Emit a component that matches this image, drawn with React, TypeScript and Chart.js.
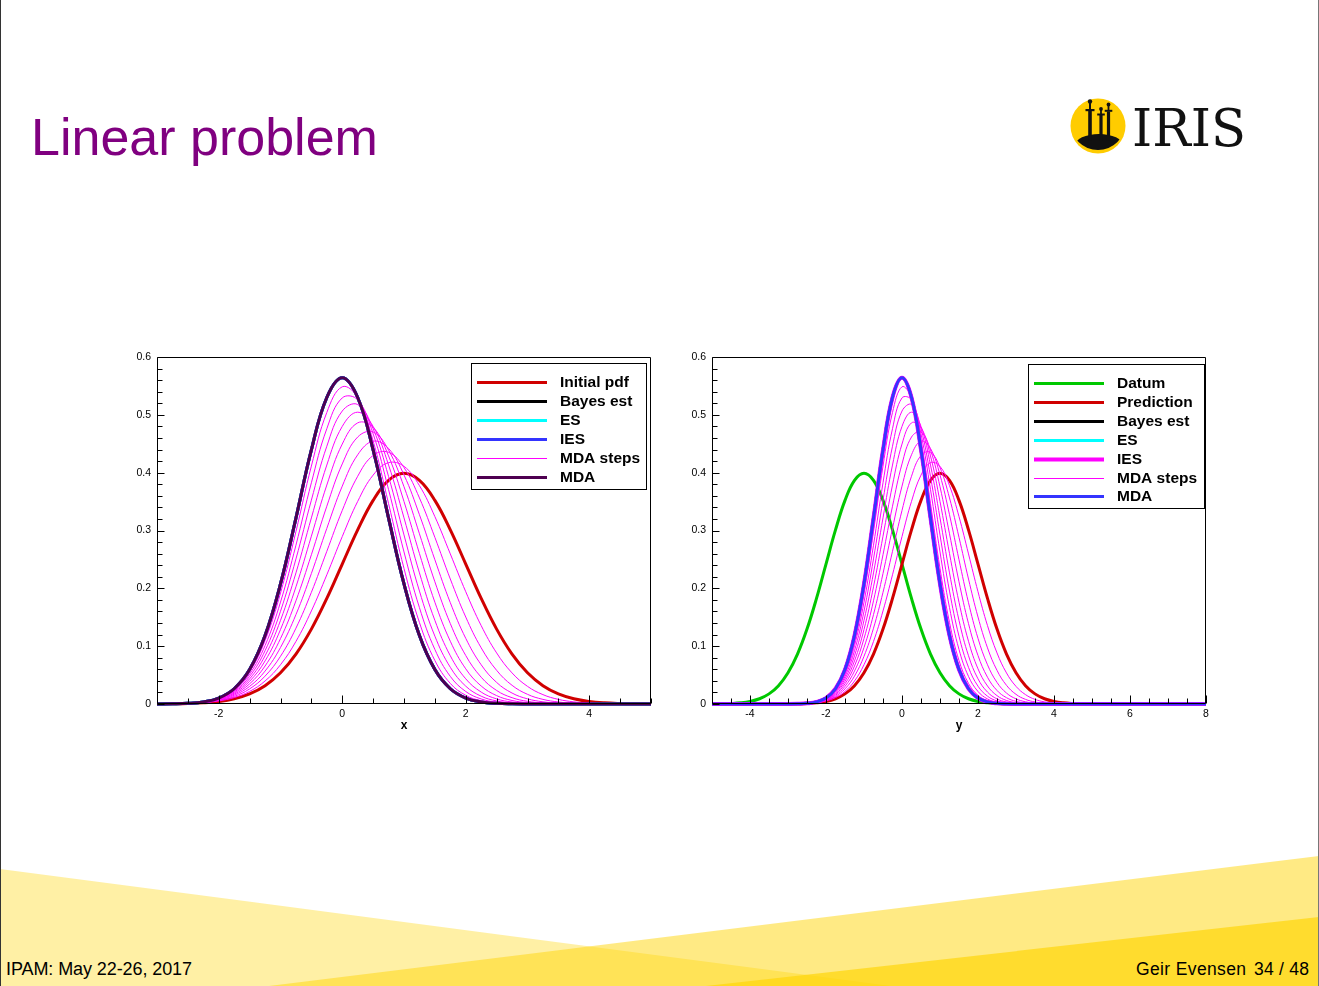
import React, { useEffect, useRef } from "react";
import { Chart, registerables } from "chart.js";

Chart.register(...registerables);

// ---------------- data ----------------
// common abscissa grid of the left panel (x) and of the right panel (y)
const X_GRID = [-3, -2.75, -2.5, -2.25, -2, -1.75, -1.5, -1.25, -1, -0.75, -0.5, -0.25, 0, 0.25, 0.5, 0.75, 1, 1.25, 1.5, 1.75, 2, 2.25, 2.5, 2.75, 3, 3.25, 3.5, 3.75, 4, 4.25, 4.5, 4.75, 5];
const DATUM_GRID = [-5, -4.75, -4.5, -4.25, -4, -3.75, -3.5, -3.25, -3, -2.75, -2.5, -2.25, -2, -1.75, -1.5, -1.25, -1, -0.75, -0.5, -0.25, 0, 0.25, 0.5, 0.75, 1, 1.25, 1.5, 1.75, 2, 2.25, 2.5, 2.75, 3];

const INITIAL_PDF = [0.0001, 0.0004, 0.0009, 0.002, 0.0044, 0.0091, 0.0175, 0.0317, 0.054, 0.0863, 0.1295, 0.1826, 0.242, 0.3011, 0.3521, 0.3867, 0.3989, 0.3867, 0.3521, 0.3011, 0.242, 0.1826, 0.1295, 0.0863, 0.054, 0.0317, 0.0175, 0.0091, 0.0044, 0.002, 0.0009, 0.0004, 0.0001];
const PREDICTION = [0.0001, 0.0004, 0.0009, 0.002, 0.0044, 0.0091, 0.0175, 0.0317, 0.054, 0.0863, 0.1295, 0.1826, 0.242, 0.3011, 0.3521, 0.3867, 0.3989, 0.3867, 0.3521, 0.3011, 0.242, 0.1826, 0.1295, 0.0863, 0.054, 0.0317, 0.0175, 0.0091, 0.0044, 0.002, 0.0009, 0.0004, 0.0001];
const DATUM = [0.0001, 0.0004, 0.0009, 0.002, 0.0044, 0.0091, 0.0175, 0.0317, 0.054, 0.0863, 0.1295, 0.1826, 0.242, 0.3011, 0.3521, 0.3867, 0.3989, 0.3867, 0.3521, 0.3011, 0.242, 0.1826, 0.1295, 0.0863, 0.054, 0.0317, 0.0175, 0.0091, 0.0044, 0.002, 0.0009, 0.0004, 0.0001];
// Bayes estimate (ES, IES and final MDA coincide with it)
const POSTERIOR = [0.0001, 0.0003, 0.0011, 0.0036, 0.0103, 0.0264, 0.0595, 0.1183, 0.2076, 0.3215, 0.4394, 0.53, 0.5642, 0.53, 0.4394, 0.3215, 0.2076, 0.1183, 0.0595, 0.0264, 0.0103, 0.0036, 0.0011, 0.0003, 0.0001, 0, 0, 0, 0, 0, 0, 0, 0];

const MDA_STEP_1 = [0.0001, 0.0004, 0.001, 0.0024, 0.0053, 0.0111, 0.0218, 0.0398, 0.0679, 0.1082, 0.1609, 0.2234, 0.2895, 0.3503, 0.3958, 0.4173, 0.4109, 0.3776, 0.324, 0.2595, 0.1941, 0.1355, 0.0883, 0.0537, 0.0305, 0.0162, 0.008, 0.0037, 0.0016, 0.0006, 0.0002, 0.0001, 0];
const MDA_STEP_2 = [0.0001, 0.0004, 0.0011, 0.0027, 0.0061, 0.0131, 0.0261, 0.0482, 0.0825, 0.1311, 0.1931, 0.264, 0.3347, 0.3938, 0.4298, 0.4352, 0.4088, 0.3563, 0.2881, 0.2161, 0.1504, 0.0971, 0.0582, 0.0323, 0.0167, 0.008, 0.0035, 0.0015, 0.0006, 0.0002, 0.0001, 0, 0];
const MDA_STEP_3 = [0.0001, 0.0004, 0.0011, 0.0029, 0.0069, 0.0151, 0.0305, 0.0569, 0.0977, 0.1546, 0.2257, 0.3037, 0.3767, 0.4309, 0.4544, 0.4418, 0.396, 0.3273, 0.2494, 0.1752, 0.1135, 0.0678, 0.0373, 0.0189, 0.0089, 0.0038, 0.0015, 0.0006, 0.0002, 0.0001, 0, 0, 0];
const MDA_STEP_4 = [0.0001, 0.0004, 0.0012, 0.0031, 0.0076, 0.017, 0.0349, 0.0657, 0.1131, 0.1785, 0.2581, 0.342, 0.4151, 0.4616, 0.4703, 0.4391, 0.3756, 0.2943, 0.2113, 0.139, 0.0838, 0.0463, 0.0234, 0.0109, 0.0046, 0.0018, 0.0006, 0.0002, 0.0001, 0, 0, 0, 0];
const MDA_STEP_5 = [0.0001, 0.0004, 0.0012, 0.0033, 0.0082, 0.0188, 0.0393, 0.0745, 0.1288, 0.2026, 0.2902, 0.3786, 0.4495, 0.4861, 0.4785, 0.4289, 0.3501, 0.2602, 0.176, 0.1085, 0.0608, 0.0311, 0.0145, 0.0061, 0.0024, 0.0008, 0.0003, 0.0001, 0, 0, 0, 0, 0];
const MDA_STEP_6 = [0.0001, 0.0004, 0.0012, 0.0034, 0.0088, 0.0206, 0.0435, 0.0834, 0.1446, 0.2267, 0.3218, 0.4132, 0.48, 0.5046, 0.48, 0.4132, 0.3218, 0.2267, 0.1446, 0.0834, 0.0435, 0.0206, 0.0088, 0.0034, 0.0012, 0.0004, 0.0001, 0, 0, 0, 0, 0, 0];
const MDA_STEP_7 = [0.0001, 0.0004, 0.0012, 0.0035, 0.0093, 0.0222, 0.0477, 0.0922, 0.1604, 0.2508, 0.3525, 0.4457, 0.5066, 0.5178, 0.4759, 0.3933, 0.2923, 0.1953, 0.1173, 0.0634, 0.0308, 0.0135, 0.0053, 0.0019, 0.0006, 0.0002, 0, 0, 0, 0, 0, 0, 0];
const MDA_STEP_8 = [0.0001, 0.0003, 0.0012, 0.0035, 0.0097, 0.0237, 0.0518, 0.101, 0.1762, 0.2746, 0.3825, 0.476, 0.5293, 0.526, 0.4671, 0.3707, 0.2629, 0.1666, 0.0943, 0.0477, 0.0216, 0.0087, 0.0031, 0.001, 0.0003, 0.0001, 0, 0, 0, 0, 0, 0, 0];
const MDA_STEP_9 = [0.0001, 0.0003, 0.0011, 0.0036, 0.01, 0.0251, 0.0557, 0.1097, 0.1919, 0.2982, 0.4114, 0.5041, 0.5485, 0.5299, 0.4547, 0.3464, 0.2344, 0.1409, 0.0752, 0.0356, 0.015, 0.0056, 0.0019, 0.0005, 0.0001, 0, 0, 0, 0, 0, 0, 0, 0];
const MDA_STEPS = [MDA_STEP_1, MDA_STEP_2, MDA_STEP_3, MDA_STEP_4, MDA_STEP_5, MDA_STEP_6, MDA_STEP_7, MDA_STEP_8, MDA_STEP_9];

// axes
const X_RANGE = [-3, 5];
const Y_RANGE = [-5, 8];
const PDF_RANGE = [0, 0.6];
const X_TICKS = [-2, 0, 2, 4];
const Y_TICKS = [-4, -2, 0, 2, 4, 6, 8];
const PDF_TICKS = [0, 0.1, 0.2, 0.3, 0.4, 0.5, 0.6];

const LEFT_LABELS = ["Initial pdf", "Bayes est", "ES", "IES", "MDA steps", "MDA"];
const RIGHT_LABELS = ["Datum", "Prediction", "Bayes est", "ES", "IES", "MDA steps", "MDA"];

// ---------------- styles ----------------
const FONT = '"Liberation Sans", Arial, Helvetica, sans-serif';
const C = {
  red: "#d00000",
  black: "#000000",
  cyan: "#00ffff",
  blue: "#3434ff",
  magenta: "#ff00ff",
  purple: "#4e0050",
  green: "#00c800",
};

type Series = {
  label: string;
  grid: number[];
  values: number[];
  color: string;
  width: number;
  legend: boolean;
  tails?: number[];
};

function toPoints(s: Series) {
  const pts = s.values.map((y, i) => ({ x: s.grid[i], y }));
  if (s.tails) {
    if (s.grid[0] > s.tails[0]) pts.unshift({ x: s.tails[0], y: 0 });
    if (s.grid[s.grid.length - 1] < s.tails[1]) pts.push({ x: s.tails[1], y: 0 });
  }
  return pts;
}

const frameTicksPlugin = {
  id: "frameTicks",
  afterDatasetsDraw(chart: any, _args: any, opts: any) {
    const { ctx, chartArea: a } = chart;
    const xs = chart.scales.x;
    const ys = chart.scales.y;
    const L = Math.round(a.left) + 0.5;
    const R = Math.round(a.right) - 0.5;
    const T = Math.round(a.top) + 0.5;
    const B = Math.round(a.bottom) - 0.5;
    ctx.save();
    ctx.strokeStyle = "#000";
    ctx.lineWidth = 1;
    ctx.beginPath();
    ctx.rect(L, T, R - L, B - T);
    const isMult = (v: number, step: number) => Math.abs(v / step - Math.round(v / step)) < 1e-6;
    const nx = Math.round((xs.max - xs.min) / opts.xMinor);
    for (let i = 0; i <= nx; i++) {
      const v = xs.min + i * opts.xMinor;
      const px = Math.round(xs.getPixelForValue(v)) + 0.5;
      const len = isMult(v, opts.xMajor) ? 8 : 5;
      ctx.moveTo(px, B);
      ctx.lineTo(px, B - len);
    }
    const ny = Math.round((ys.max - ys.min) / opts.yMinor);
    for (let i = 0; i <= ny; i++) {
      const v = ys.min + i * opts.yMinor;
      const py = Math.round(ys.getPixelForValue(v)) + 0.5;
      const len = isMult(v, opts.yMajor) ? 7 : 5;
      ctx.moveTo(L, py);
      ctx.lineTo(L + len, py);
    }
    ctx.stroke();
    ctx.restore();
  },
};

const boxLegendPlugin = {
  id: "boxLegend",
  afterDraw(chart: any, _args: any, opts: any) {
    const entries = opts.entries || [];
    if (!entries.length) return;
    const { ctx, chartArea: a } = chart;
    const left = Math.round(a.right - opts.insetRight - opts.width);
    const top = Math.round(a.top + opts.insetTop);
    const height = Math.round(opts.firstRow + (entries.length - 1) * opts.rowGap + opts.bottomPad);
    ctx.save();
    ctx.fillStyle = "#fff";
    ctx.fillRect(left, top, opts.width, height);
    ctx.strokeStyle = "#000";
    ctx.lineWidth = 1;
    ctx.strokeRect(left + 0.5, top + 0.5, opts.width, height);
    ctx.font = `bold ${opts.fontSize}px ${FONT}`;
    ctx.textBaseline = "middle";
    ctx.textAlign = "left";
    entries.forEach((e: any, i: number) => {
      const y = Math.round(top + opts.firstRow + i * opts.rowGap) + 0.5;
      ctx.beginPath();
      ctx.strokeStyle = e.color;
      ctx.lineWidth = e.width;
      ctx.moveTo(left + opts.swatchStart, y);
      ctx.lineTo(left + opts.swatchEnd, y);
      ctx.stroke();
      ctx.fillStyle = "#000";
      ctx.fillText(e.label, left + opts.textStart, y);
    });
    ctx.restore();
  },
};

function buildConfig(series: Series[], p: any) {
  const n = series.length;
  const datasets = series.map((s, i) => ({
    label: s.label,
    data: toPoints(s),
    borderColor: s.color,
    backgroundColor: s.color,
    borderWidth: s.width,
    pointRadius: 0,
    pointHoverRadius: 0,
    fill: false,
    tension: 0.4,
    order: n - i,
    clip: { left: 0, right: 0, top: 0, bottom: 2 },
  }));
  const entries = series.filter((s) => s.legend).map((s) => ({ label: s.label, color: s.color, width: s.width }));
  const tickFont = { size: 10.5, family: FONT };
  return {
    type: "line",
    data: { datasets },
    options: {
      responsive: false,
      animation: false,
      devicePixelRatio: 1,
      events: [],
      layout: { padding: { left: 0, right: 4, top: 17, bottom: 7 } },
      plugins: {
        legend: { display: false },
        tooltip: { enabled: false },
        frameTicks: { xMinor: 0.5, xMajor: 2, yMinor: 0.02, yMajor: 0.1 },
        boxLegend: {
          entries,
          insetRight: p.legend.insetRight,
          insetTop: p.legend.insetTop,
          width: p.legend.width,
          firstRow: 19,
          rowGap: 18.9,
          bottomPad: 12,
          swatchStart: 6,
          swatchEnd: 76,
          textStart: 89,
          fontSize: 15.5,
        },
      },
      scales: {
        x: {
          type: "linear",
          min: p.xRange[0],
          max: p.xRange[1],
          afterBuildTicks: (s: any) => {
            s.ticks = p.xTicks.map((v: number) => ({ value: v }));
          },
          afterFit: (s: any) => {
            s.height = 29;
            s.paddingLeft = 0;
            s.paddingRight = 0;
          },
          grid: { display: false, drawTicks: false },
          border: { display: false },
          ticks: {
            padding: 4,
            color: "#000",
            font: tickFont,
            autoSkip: false,
            maxRotation: 0,
            minRotation: 0,
            callback: (v: any) => String(v),
          },
          title: { display: true, text: p.xTitle, color: "#000", padding: 0, font: { size: 12, weight: "bold", family: FONT } },
        },
        y: {
          type: "linear",
          min: PDF_RANGE[0],
          max: PDF_RANGE[1],
          afterBuildTicks: (s: any) => {
            s.ticks = PDF_TICKS.map((v) => ({ value: v }));
          },
          afterFit: (s: any) => {
            s.width = 57;
            s.paddingTop = 0;
            s.paddingBottom = 0;
          },
          grid: { display: false, drawTicks: false },
          border: { display: false },
          ticks: {
            padding: 6,
            color: "#000",
            font: tickFont,
            autoSkip: false,
            callback: (v: any) => String(v),
          },
        },
      },
    },
    plugins: [frameTicksPlugin, boxLegendPlugin],
  };
}

function leftSeries(): Series[] {
  const s: Series[] = [
    { label: LEFT_LABELS[0], grid: X_GRID, values: INITIAL_PDF, color: C.red, width: 3, legend: true },
    { label: LEFT_LABELS[1], grid: X_GRID, values: POSTERIOR, color: C.black, width: 3, legend: true },
    { label: LEFT_LABELS[2], grid: X_GRID, values: POSTERIOR, color: C.cyan, width: 3, legend: true },
    { label: LEFT_LABELS[3], grid: X_GRID, values: POSTERIOR, color: C.blue, width: 3, legend: true },
  ];
  MDA_STEPS.forEach((v, i) =>
    s.push({ label: LEFT_LABELS[4], grid: X_GRID, values: v, color: C.magenta, width: 1, legend: i === 0 })
  );
  s.push({ label: LEFT_LABELS[5], grid: X_GRID, values: POSTERIOR, color: C.purple, width: 3, legend: true });
  return s;
}

function rightSeries(): Series[] {
  const t = Y_RANGE;
  const s: Series[] = [
    { label: RIGHT_LABELS[0], grid: DATUM_GRID, values: DATUM, color: C.green, width: 3, legend: true, tails: t },
    { label: RIGHT_LABELS[1], grid: X_GRID, values: PREDICTION, color: C.red, width: 3, legend: true, tails: t },
    { label: RIGHT_LABELS[2], grid: X_GRID, values: POSTERIOR, color: C.black, width: 3, legend: true, tails: t },
    { label: RIGHT_LABELS[3], grid: X_GRID, values: POSTERIOR, color: C.cyan, width: 3, legend: true, tails: t },
    { label: RIGHT_LABELS[4], grid: X_GRID, values: POSTERIOR, color: C.magenta, width: 4, legend: true, tails: t },
  ];
  MDA_STEPS.forEach((v, i) =>
    s.push({ label: RIGHT_LABELS[5], grid: X_GRID, values: v, color: C.magenta, width: 1, legend: i === 0, tails: t })
  );
  s.push({ label: RIGHT_LABELS[6], grid: X_GRID, values: POSTERIOR, color: C.blue, width: 3, legend: true, tails: t });
  return s;
}

function PdfChart(props: { which: "left" | "right"; left: number; top: number }) {
  const ref = useRef<HTMLCanvasElement | null>(null);
  useEffect(() => {
    const cfg =
      props.which === "left"
        ? buildConfig(leftSeries(), {
            xRange: X_RANGE,
            xTicks: X_TICKS,
            xTitle: "x",
            legend: { insetRight: 5, insetTop: 6, width: 175 },
          })
        : buildConfig(rightSeries(), {
            xRange: Y_RANGE,
            xTicks: Y_TICKS,
            xTitle: "y",
            legend: { insetRight: 2, insetTop: 7, width: 176 },
          });
    const chart = new Chart(ref.current as HTMLCanvasElement, cfg as any);
    return () => chart.destroy();
  }, [props.which]);
  return (
    <canvas
      ref={ref}
      width={555}
      height={400}
      style={{ position: "absolute", left: props.left, top: props.top, width: 555, height: 400, display: "block" }}
    />
  );
}

function Logo() {
  const dy = -3.5;
  return (
    <g>
      <defs>
        <clipPath id="irisClip">
          <circle cx={1098} cy={126} r={27.5} />
        </clipPath>
      </defs>
      <circle cx={1098} cy={126} r={27.5} fill="#ffcc00" />
      <g clipPath="url(#irisClip)" fill="#111" transform={`translate(0 ${dy})`}>
        <ellipse cx={1099} cy={149} rx={24} ry={11.5} />
        <circle cx={1090} cy={105} r={2.2} />
        <rect x={1089} y={105} width={2} height={8} />
        <rect x={1085.5} y={112.5} width={9} height={2.2} />
        <rect x={1088.2} y={114} width={3.6} height={30} />
        <circle cx={1101} cy={112.5} r={1.9} />
        <rect x={1100.1} y={112.5} width={1.8} height={5} />
        <rect x={1097.2} y={117} width={7.6} height={2} />
        <rect x={1099.4} y={118.5} width={3.2} height={26} />
        <circle cx={1108.5} cy={108} r={1.9} />
        <rect x={1107.6} y={108} width={1.8} height={6} />
        <rect x={1104.7} y={113.3} width={7.6} height={2} />
        <rect x={1106.9} y={115} width={3.2} height={29} />
      </g>
      <text
        x={1132}
        y={146}
        fontFamily='"DejaVu Serif", "Liberation Serif", serif'
        fontSize={52}
        fill="#111"
        textLength={114}
        lengthAdjust="spacingAndGlyphs"
      >
        IRIS
      </text>
    </g>
  );
}

export default function App() {
  return (
    <div
      style={{
        position: "absolute",
        left: 0,
        top: 0,
        width: 1319,
        height: 986,
        overflow: "hidden",
        background: "#ffffff",
        fontFamily: FONT,
      }}
    >
      <svg width={1319} height={986} style={{ position: "absolute", left: 0, top: 0 }}>
        <polygon points="0,869 891,986 0,986" fill="#ffd60a" fillOpacity={0.37} />
        <polygon points="269,986 1319,856 1319,986" fill="#ffd60a" fillOpacity={0.5} />
        <polygon points="706,986 1319,917 1319,986" fill="#ffd60a" fillOpacity={0.7} />
        <line x1={0.5} y1={0} x2={0.5} y2={986} stroke="#333" strokeWidth={1} />
        <line x1={1318.5} y1={0} x2={1318.5} y2={986} stroke="#777" strokeWidth={1} />
        <text x={31} y={155} fontFamily={FONT} fontSize={52} fill="#800080">
          Linear problem
        </text>
        <Logo />
        <text x={6} y={975} fontFamily={FONT} fontSize={18} fill="#000" textLength={186} lengthAdjust="spacing">
          IPAM: May 22-26, 2017
        </text>
        <text x={1136} y={975} fontFamily={FONT} fontSize={17.5} fill="#000" textLength={110} lengthAdjust="spacing">
          Geir Evensen
        </text>
        <text x={1254} y={975} fontFamily={FONT} fontSize={17.5} fill="#000" textLength={55} lengthAdjust="spacing">
          34 / 48
        </text>
      </svg>
      <PdfChart which="left" left={100} top={340} />
      <PdfChart which="right" left={655} top={340} />
    </div>
  );
}
